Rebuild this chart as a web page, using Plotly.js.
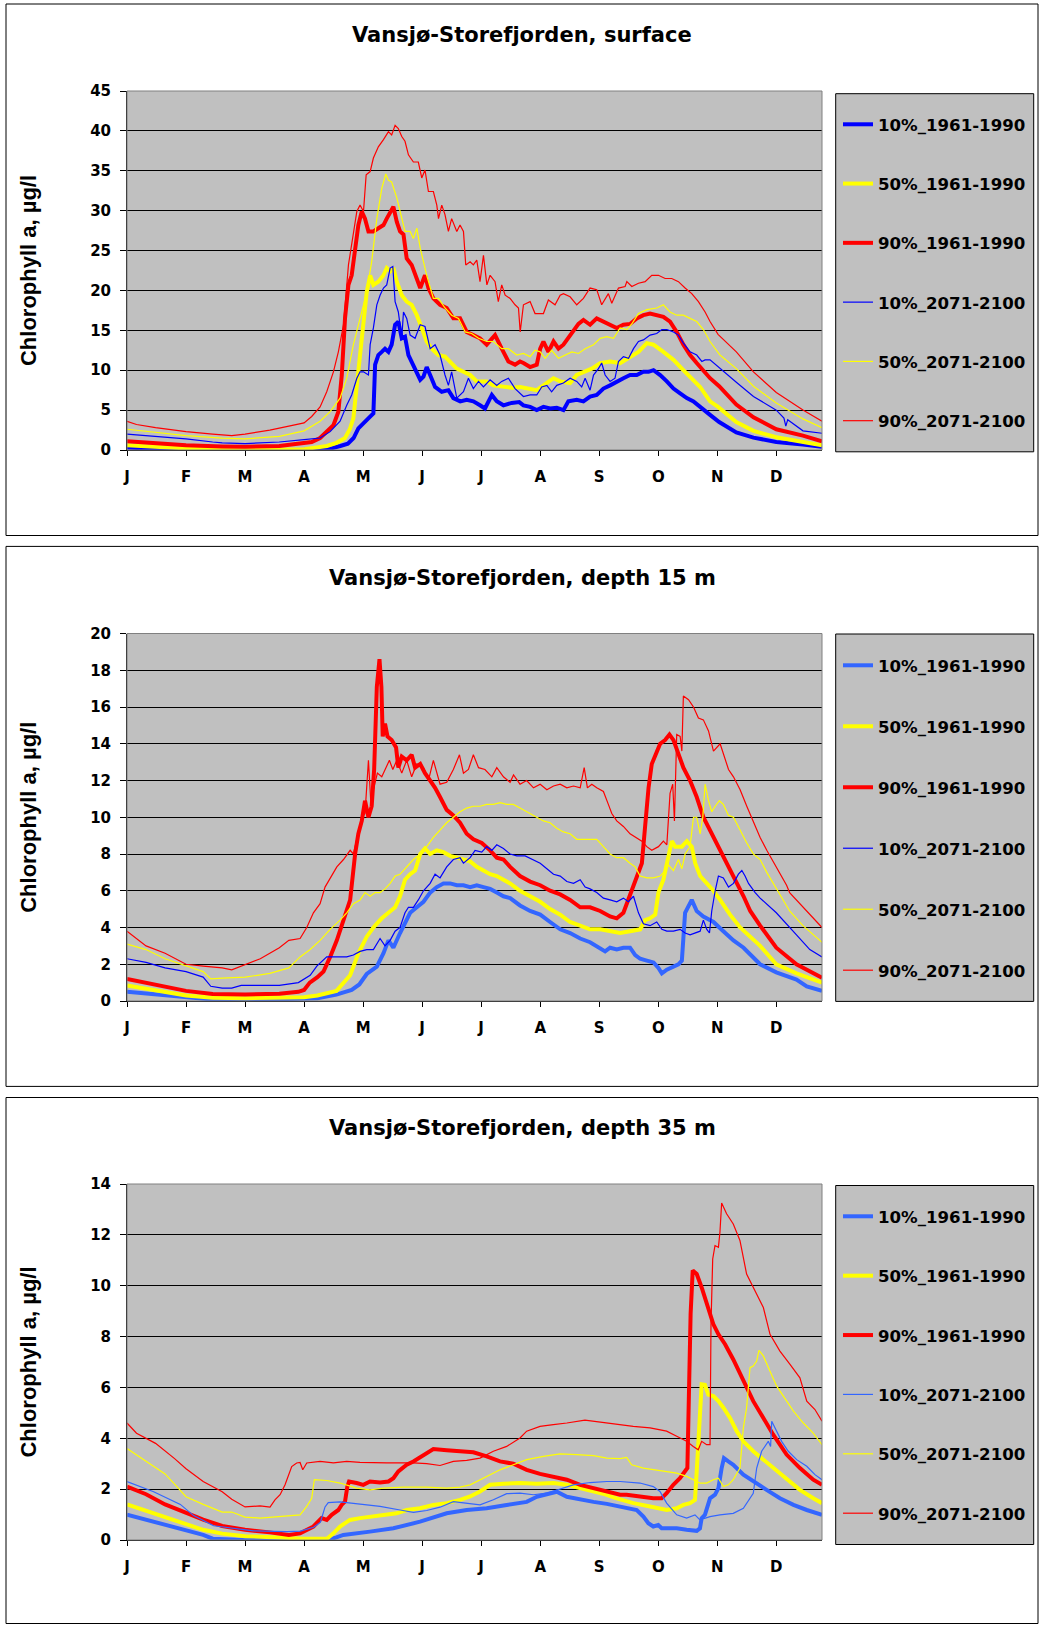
<!DOCTYPE html>
<html>
<head>
<meta charset="utf-8">
<script src="https://cdn.plot.ly/plotly-3.0.1.min.js"></script>
<style>html,body{margin:0;padding:0;background:#fff;}#chart{width:1041px;height:1625px;}</style>
</head>
<body>
<div id="chart"></div>
<script>
// ---------- DATA (day of year, chlorophyll a µg/l) ----------
const monthTickDays = [0,31,62,93,124,155,186,217,248,279,310,341];
const monthTickLabels = ['J','F','M','A','M','J','J','A','S','O','N','D'];
const seriesNames = ['10%_1961-1990','50%_1961-1990','90%_1961-1990','10%_2071-2100','50%_2071-2100','90%_2071-2100'];
const panelTitles = ['Vansjø-Storefjorden, surface','Vansjø-Storefjorden, depth 15 m','Vansjø-Storefjorden, depth 35 m'];

// --- surface ---
const surf_p10_hist = [[0,0.3],[8,0.2],[15,0.15],[31,0.05],[40,0.02],[62,0],[93,0.02],[100,0.1],[108,0.25],[112,0.5],[116,0.8],[119,1.5],[121.5,2.7],[124,3.3],[127.7,4.2],[129.4,4.6],[130.3,10.7],[132,11.9],[133.8,12.3],[135.5,12.7],[137.3,12.3],[139,13.2],[140.8,15.7],[142.5,16.1],[144.3,14.0],[146,14.2],[147.8,11.9],[149.5,11.1],[152.2,9.8],[154,8.8],[155.7,9.2],[157.4,10.4],[159.2,9.4],[161.8,7.9],[165.3,7.3],[168.8,7.5],[171.4,6.5],[175,6.1],[178.4,6.3],[181.9,6.1],[185.4,5.6],[188,5.2],[191.6,6.9],[194.2,6.1],[197.7,5.6],[202,5.9],[206,6.0],[208.2,5.6],[211.7,5.4],[215.2,5.0],[218.7,5.4],[222.2,5.2],[225.7,5.3],[229.2,5.0],[231.8,6.1],[236.2,6.3],[239.7,6.1],[243.2,6.7],[246.7,6.9],[250.2,7.7],[253.7,8.1],[257.2,8.6],[260.7,9.0],[264.2,9.4],[267.7,9.4],[271.2,9.8],[273.9,9.8],[276.5,10.0],[280,9.4],[283.5,8.6],[287,7.7],[290.5,7.1],[294,6.5],[297.5,6.1],[301,5.4],[303.6,4.8],[306.2,4.4],[311,3.5],[320,2.2],[329,1.55],[341,1.0],[355,0.7],[365,0.4]];
const surf_p50_hist = [[0,0.6],[15,0.4],[31,0.2],[50,0.08],[62,0.05],[80,0.05],[93,0.1],[100,0.3],[105,0.5],[110,0.9],[114.5,1.5],[117,2.6],[118.9,4.0],[120.7,8.1],[122.4,12.3],[124.2,16.5],[125.9,19.8],[127.7,21.9],[129.4,20.7],[132,21.1],[134.7,21.9],[136.4,22.8],[138.2,22.4],[139.9,22.8],[141.7,21.1],[144.3,19.4],[146.9,18.6],[149.5,18.2],[152.2,16.9],[154.8,15.3],[157.4,13.6],[160,12.7],[163.6,11.9],[167,11.7],[169.7,11.1],[173.2,10.2],[176.7,9.8],[180.2,9.4],[183.7,8.6],[189,8.6],[192.4,8.1],[197.7,7.9],[202,7.8],[206.5,7.9],[211.7,7.7],[215.2,7.5],[218.7,8.1],[224,9.0],[227.5,8.6],[232.7,8.4],[236.2,9.4],[239.7,9.8],[244.1,10.2],[248.5,10.9],[253.7,11.1],[259,10.9],[264.2,11.7],[268.6,12.3],[273,13.4],[276.5,13.2],[281.7,12.3],[287,11.3],[291.4,10.2],[295.7,9.2],[301,7.9],[306.2,6.1],[310.4,5.4],[320,3.5],[329,2.4],[341,1.6],[355,1.0],[365,0.6]];
const surf_p90_hist = [[0,1.1],[15,0.8],[31,0.6],[50,0.45],[62,0.4],[80,0.5],[93,0.8],[97,1.0],[101.4,1.5],[104.9,2.3],[108.4,3.1],[111,4.8],[112.8,9.4],[114.5,16.5],[116.3,20.7],[118,21.9],[119.8,25.7],[121.5,28.2],[123.3,29.9],[125,29.0],[126.8,27.4],[129.4,27.4],[132,27.8],[134.7,28.2],[136.4,29.0],[138.2,29.9],[139.9,30.5],[141.7,28.6],[143.4,27.4],[145.2,27.0],[146.9,24.0],[149.5,23.2],[152.2,21.5],[154,20.3],[156.5,21.9],[158.3,20.3],[160.9,19.0],[164.4,18.2],[167.9,17.8],[171.4,16.5],[174.9,16.5],[178.4,14.8],[181.9,14.4],[185.4,14.0],[188.9,13.2],[193.3,14.4],[196.8,12.7],[200.3,11.1],[203.8,10.7],[206.4,11.1],[208.2,10.9],[211.7,10.4],[215.2,10.7],[217,12.7],[218.7,13.6],[221.3,12.3],[224,13.6],[226.6,12.7],[229.2,13.2],[231.8,14.0],[234.5,14.8],[237.1,15.8],[239.7,16.3],[243.2,15.7],[246.7,16.5],[250.2,16.1],[253.7,15.8],[257.2,15.3],[260.7,15.7],[264.2,15.8],[267.7,16.5],[271.2,16.9],[274.7,17.1],[278.2,16.9],[281.7,16.7],[285.2,16.1],[288.7,14.8],[292.2,13.2],[295.7,11.9],[299.2,10.9],[302.7,10.0],[306.2,9.0],[311,8.0],[320,5.7],[329,4.1],[341,2.6],[355,1.8],[365,1.1]];
const surf_p10_fut = [[0,2.0],[15,1.7],[31,1.4],[45,1.0],[50,0.9],[62,0.8],[80,1.0],[93,1.3],[101.4,1.5],[106.7,2.3],[111.9,3.6],[115.4,5.6],[118,6.9],[120.7,9.0],[122.4,9.8],[124.2,9.8],[126.8,9.4],[127.7,13.2],[129.4,15.3],[131.2,18.2],[132.9,19.4],[134.7,20.3],[136.4,20.7],[138.2,22.8],[139.6,23.0],[140.8,18.6],[142.5,17.3],[144.3,14.0],[145.2,17.3],[146.9,16.5],[148.7,14.4],[151.3,14.0],[154,15.7],[156.5,15.5],[159.2,12.7],[161.8,13.2],[164.4,11.9],[167,9.4],[168.8,8.1],[170.5,9.8],[173.2,6.5],[176.7,7.3],[179.3,9.0],[181.9,7.7],[184.6,8.6],[187.2,7.9],[190.7,8.8],[194.2,8.1],[196.8,8.6],[200.3,9.0],[203.8,7.7],[208.2,6.7],[211.7,6.9],[215.2,6.9],[217.8,7.9],[220.5,8.1],[223,7.3],[225.7,8.1],[229.2,8.4],[232.7,9.0],[236.2,8.6],[238.8,7.9],[240.6,9.0],[243.2,7.5],[245,9.4],[247.6,10.2],[249.3,10.9],[251.1,9.4],[253.7,8.6],[256.3,9.0],[258.1,11.1],[260.7,11.7],[263.4,11.5],[266,12.7],[268.6,13.6],[271.2,13.8],[274.7,14.4],[278.2,14.6],[280.9,15.1],[283.5,15.1],[287,14.8],[289.6,14.4],[292.2,13.4],[295.7,12.3],[299.2,11.9],[301.9,11.1],[303.6,11.3],[306.2,11.3],[311.4,10.2],[320,8.5],[329,6.7],[341,5.0],[345,4.0],[346,3.0],[347,3.8],[355,2.4],[365,2.1]];
const surf_p50_fut = [[0,2.6],[15,2.2],[31,1.8],[50,1.5],[62,1.4],[80,1.7],[93,2.4],[101.4,3.6],[106.7,4.8],[111.9,6.5],[115.4,9.0],[118.9,13.2],[122.4,16.5],[125.9,19.8],[128.5,23.6],[131.2,29.0],[133.8,32.8],[135.9,34.6],[137.3,33.8],[139,33.6],[141.7,31.6],[144.3,29.0],[146,27.4],[148.7,27.4],[150.4,26.5],[152.2,27.8],[154,25.3],[157.4,21.9],[160.9,19.0],[163.6,19.0],[167,17.8],[170.5,16.9],[174.1,16.5],[177.6,14.8],[181,14.6],[184.6,14.0],[189,13.6],[192.4,13.6],[196.8,12.7],[200.3,12.7],[204.7,11.9],[208.2,12.1],[211.7,11.7],[214.3,12.5],[217,12.3],[219.6,11.5],[223,12.5],[226.6,11.5],[230.1,11.9],[233.6,12.3],[237.1,12.1],[240.6,12.7],[245,13.2],[248.5,14.0],[252,14.2],[255.5,14.0],[259,15.3],[262.5,15.1],[265.1,15.8],[268.6,17.1],[273,17.6],[278.2,17.8],[281.7,18.2],[285.2,17.3],[288.7,16.9],[292.2,16.9],[295.7,16.5],[299.2,16.1],[302.7,15.1],[306.2,13.6],[311.4,11.9],[320,10.2],[329,8.0],[341,5.9],[355,3.9],[365,2.8]];
const surf_p90_fut = [[0,3.6],[5,3.2],[15,2.8],[31,2.3],[45,2.0],[55,1.8],[62,2.0],[75,2.5],[85,3.0],[93,3.4],[97,4.2],[101.4,5.4],[104.9,7.3],[108.4,9.8],[111,12.3],[113.7,15.7],[116.3,23.2],[118.9,27.4],[120.7,29.9],[122.4,30.7],[124.2,29.9],[125.6,34.5],[127.7,34.9],[129.4,36.6],[132,38.0],[134.7,38.9],[137.3,39.9],[139,39.5],[140.8,40.7],[142.5,40.3],[144.3,39.3],[146,38.7],[147.8,37.0],[150.4,36.1],[153,36.1],[154.8,34.1],[156.5,35.1],[158.3,32.4],[160.9,32.4],[162.7,30.7],[163.6,29.0],[165.3,30.7],[167,29.5],[168.8,27.4],[170.5,29.0],[173.2,27.4],[174.9,28.2],[176.7,27.4],[177.9,23.2],[180.2,23.6],[181.9,23.2],[183.7,23.8],[185.4,21.1],[187.2,24.4],[189,20.7],[190.7,21.9],[193.3,21.1],[195,18.6],[196.8,20.7],[198.6,19.4],[201.2,19.0],[203.8,18.2],[205.6,17.8],[206.5,14.8],[208.2,18.2],[211.7,18.6],[214.3,17.1],[218.7,17.1],[221.3,18.8],[224.8,18.2],[227.5,19.4],[229.2,19.6],[232.7,19.2],[236.2,18.2],[239.7,19.0],[243.2,20.3],[246.7,20.1],[249.3,18.2],[252.8,19.6],[254.6,18.4],[258.1,20.3],[261.6,20.5],[262.5,21.1],[265.1,20.5],[268.6,20.9],[272.1,21.1],[275.6,21.9],[279.1,21.9],[282.6,21.5],[286.1,21.5],[289.6,21.1],[293.1,20.3],[296.6,19.6],[300.1,18.6],[303.6,17.3],[306.2,16.1],[310.4,14.5],[320,12.3],[329,9.8],[341,7.2],[355,5.0],[365,3.6]];

// --- depth 15 m ---
const d15_p10_hist = [[0,0.5],[15,0.35],[31,0.2],[45,0.08],[62,0.05],[93,0.1],[100,0.15],[110,0.35],[118,0.6],[122,0.9],[125.9,1.47],[131.2,1.87],[134.7,2.6],[137.3,3.3],[139.9,2.9],[143.4,3.7],[146,4.2],[148.7,4.8],[152.2,5.1],[155.7,5.4],[159.2,5.9],[162.7,6.2],[166.2,6.4],[169.7,6.4],[173.2,6.3],[176.7,6.3],[180.2,6.2],[183.7,6.3],[187.2,6.2],[190.7,6.1],[194.2,5.9],[197.7,5.7],[201.2,5.6],[206.4,5.2],[211.7,4.9],[217,4.7],[222.2,4.3],[227.5,3.9],[232.7,3.7],[238,3.4],[243.2,3.2],[248.5,2.9],[251.1,2.7],[253.7,2.9],[257.2,2.8],[260.7,2.9],[264.2,2.9],[266.9,2.5],[269.5,2.3],[273,2.2],[276.5,2.1],[279.1,1.8],[280.9,1.5],[283.5,1.7],[287,1.9],[289.6,2.0],[291.4,2.2],[293.1,4.8],[296.6,5.5],[299.2,4.9],[302.7,4.6],[308,4.3],[313.2,3.8],[318.5,3.3],[323.8,2.9],[329,2.4],[332.5,2.0],[341,1.56],[351.6,1.17],[357,0.8],[365,0.55]];
const d15_p50_hist = [[0,0.85],[15,0.6],[31,0.3],[45,0.18],[62,0.15],[93,0.2],[100,0.3],[110,0.55],[117.2,1.4],[121.5,2.6],[125.9,3.5],[129.4,4.0],[133.8,4.5],[137.3,4.8],[140.8,5.1],[143.4,5.7],[146,6.6],[148.7,6.9],[151.3,7.1],[154,8.0],[156.5,8.3],[159.2,8.0],[162.7,8.2],[166.2,8.1],[169.7,7.9],[173.2,7.8],[176.7,7.7],[180.2,7.6],[183.7,7.3],[187.2,7.1],[190.7,6.9],[194.2,6.8],[197.7,6.6],[201.2,6.4],[206.4,6.0],[211.7,5.7],[217,5.4],[222.2,5.0],[227.5,4.7],[232.7,4.3],[238,4.1],[243.2,3.9],[248.5,3.9],[253.7,3.8],[259,3.7],[264.2,3.8],[269.5,3.9],[272.1,4.4],[274.7,4.5],[277.4,4.7],[279.1,5.9],[281.7,6.6],[284.4,8.0],[286.1,8.7],[287.9,8.4],[291.4,8.4],[294,8.7],[296.6,8.4],[298.4,7.5],[301,6.8],[304.5,6.4],[308,6.0],[311.5,5.5],[316.7,4.7],[322,4.0],[327.3,3.5],[332.5,3.0],[341,2.0],[351.6,1.5],[365,1.0]];
const d15_p90_hist = [[0,1.2],[15,0.9],[31,0.55],[45,0.38],[62,0.35],[80,0.4],[90,0.5],[93,0.6],[96,1.0],[100,1.3],[103.2,1.6],[106.7,2.4],[110.2,3.3],[113.7,4.4],[117.2,5.5],[119.8,8.0],[121.5,9.1],[123.3,9.8],[125,10.9],[126.8,10.0],[128.5,10.6],[129.8,12.6],[131.2,17.1],[132.6,18.6],[133.6,17.1],[134.3,14.4],[135.5,15.1],[136.8,14.4],[139,14.2],[141.3,13.8],[142.5,12.7],[144.3,13.3],[146.9,13.1],[149.5,13.4],[151.3,12.7],[154,12.9],[156.5,12.4],[159.2,12.0],[161.8,11.6],[164.4,11.1],[167.9,10.4],[171.4,10.1],[174.9,9.7],[178.4,9.1],[181.9,8.8],[186.3,8.6],[190.7,8.2],[194.2,7.8],[197.7,7.7],[201.2,7.3],[206.4,6.8],[211.7,6.5],[217,6.3],[222.2,6.0],[227.5,5.8],[232.7,5.5],[238,5.1],[243.2,5.1],[248.5,4.9],[253.7,4.6],[257.2,4.5],[260.7,4.8],[263.3,5.5],[266,6.2],[268.6,6.9],[270.4,7.5],[272.1,9.5],[273.9,11.6],[275.6,12.9],[278.2,13.5],[280,14.0],[282.6,14.2],[284.9,14.5],[287,14.2],[289.6,13.5],[292.2,12.7],[295.7,12.0],[299.2,11.1],[302.7,10.0],[306.2,9.3],[309.7,8.6],[313.2,7.8],[316.7,7.1],[320.2,6.4],[323.8,5.7],[327.3,4.9],[332.5,4.1],[341,2.9],[351.6,2.0],[365,1.27]];
const d15_p10_fut = [[0,2.3],[10,2.1],[20,1.8],[31,1.6],[40,1.3],[44,0.8],[50,0.7],[55,0.7],[60,0.85],[80,0.85],[90,1.0],[93,1.2],[96.2,1.4],[99.7,1.9],[104.9,2.4],[110.2,2.4],[115.4,2.4],[118.9,2.5],[122.4,2.7],[125.9,2.8],[129.4,2.8],[132.9,3.4],[135.5,3.0],[138.2,3.3],[140.8,3.8],[143.4,4.0],[146,4.8],[147.8,5.1],[150.4,5.1],[153,5.5],[155.7,6.0],[159.2,6.4],[161.8,6.9],[164.4,6.7],[167.9,7.3],[171.4,7.7],[174.9,7.8],[176.7,7.5],[180.2,7.8],[182.8,8.2],[186.3,8.1],[188.9,8.4],[191.6,8.2],[194.2,8.5],[197.7,8.3],[201.2,8.0],[204.7,7.9],[209.1,7.9],[213.5,7.7],[217,7.5],[220.5,7.2],[224,6.9],[227.5,6.8],[231,6.5],[234.5,6.4],[238,6.6],[240.6,6.2],[243.2,6.1],[246.7,5.9],[250.2,5.6],[253.7,5.5],[257.2,5.4],[260.7,5.6],[263.3,5.4],[266,5.7],[268.6,4.8],[271.2,4.2],[274.7,4.1],[278.2,4.3],[280.9,3.9],[283.5,3.8],[287,3.8],[290.5,3.9],[293.1,3.7],[295.7,3.6],[298.4,3.7],[301,3.8],[302.7,4.4],[304.5,3.9],[305.9,3.7],[307.1,4.9],[308.9,6.0],[310.6,6.8],[313.2,6.7],[315.9,6.2],[318.5,6.4],[321.1,6.9],[322.9,7.1],[324.6,6.8],[326.4,6.4],[329.9,5.9],[332.5,5.6],[341,4.8],[351.6,3.6],[358.6,2.8],[365,2.4]];
const d15_p50_fut = [[0,3.1],[10,2.8],[20,2.3],[31,1.9],[40,1.6],[44,1.2],[50,1.25],[62,1.3],[75,1.5],[85,1.8],[90.9,2.4],[96.2,2.8],[101.4,3.3],[106.7,3.9],[111.9,4.4],[115.4,4.8],[118.9,5.3],[122.4,5.5],[125,5.9],[127.7,5.7],[130.3,5.9],[132.9,5.9],[135.5,6.1],[138.2,6.4],[140.8,6.8],[143.4,6.9],[146.9,7.3],[150.4,7.7],[154,8.0],[157.4,8.4],[160.9,8.9],[164.4,9.3],[167.9,9.7],[171.4,10.0],[174.9,10.3],[178.4,10.5],[181.9,10.6],[185.4,10.6],[188.9,10.7],[192.4,10.7],[196,10.8],[199.4,10.7],[202.9,10.7],[206.4,10.5],[208.2,10.4],[211.7,10.2],[215.2,10.0],[218.7,9.8],[222.2,9.7],[225.7,9.4],[229.2,9.2],[232.7,9.1],[236.2,8.8],[239.7,8.8],[243.2,8.8],[246.7,8.8],[250.2,8.4],[253.7,8.0],[257.2,7.8],[260.7,7.8],[264.2,7.5],[266.9,7.3],[269.5,6.8],[273,6.7],[276.5,6.7],[280,6.8],[282.6,7.1],[284.4,7.4],[287,7.1],[289.6,7.7],[291.4,7.2],[293.1,8.0],[295.7,8.4],[297.5,10.0],[299.2,10.0],[301,9.1],[302.4,10.0],[303.6,11.8],[305.4,10.9],[307.1,10.3],[308.9,10.6],[311.1,10.9],[313.2,10.7],[315.9,10.1],[318.5,10.0],[322,9.3],[325.5,8.6],[329,8.0],[332.5,7.7],[336,7.0],[341,6.1],[348,4.9],[355,4.1],[365,3.2]];
const d15_p90_fut = [[0,3.8],[5,3.4],[10,3.0],[20,2.6],[31,2.0],[40,1.9],[50,1.8],[55,1.7],[62,2.0],[70,2.3],[80,2.9],[85,3.3],[90.9,3.4],[94.4,4.0],[97.9,4.8],[101.4,5.3],[104,6.2],[107.5,6.8],[110.2,7.3],[113.7,7.7],[117.2,8.2],[118.9,8.0],[121.5,9.1],[123.3,10.0],[125,10.2],[126.8,13.1],[128,10.9],[129.8,11.6],[131.5,12.4],[133.8,12.2],[136.1,12.7],[137.8,13.1],[139.6,12.6],[141.7,13.1],[144.3,12.4],[146.9,13.1],[149.5,12.2],[152.2,12.9],[155.7,12.7],[158.3,12.0],[160.9,13.1],[164.4,11.8],[167.9,11.9],[171.4,12.6],[174.6,13.4],[176.7,12.4],[179.3,12.6],[181.9,13.4],[184.6,12.7],[188,12.6],[191.6,12.2],[194.2,12.7],[197.7,12.2],[201.2,11.9],[203,12.3],[206.4,11.8],[209.9,12.0],[213.5,11.6],[217,11.8],[220.5,11.5],[224,11.7],[227.5,11.8],[231,11.6],[234.5,11.7],[238,11.6],[240.1,12.7],[241.8,11.6],[244.1,11.8],[246.7,11.6],[250.2,11.4],[252.8,10.7],[254.6,10.2],[257.2,9.8],[260.7,9.5],[264.2,9.1],[267.7,8.9],[270.4,8.7],[273,8.4],[275.6,8.2],[279.1,8.4],[281.7,8.7],[283.5,8.5],[285.2,11.3],[286.6,11.8],[287.5,9.8],[288.7,14.5],[290.5,14.4],[291.4,13.6],[292.2,16.6],[294.9,16.4],[297.5,16.0],[300.1,15.4],[302.7,15.3],[305.4,14.7],[308,13.6],[311.5,14.0],[313.2,13.5],[315.9,12.6],[318.5,12.2],[322,11.5],[325.5,10.6],[329,9.7],[332.5,8.9],[336,8.2],[341,7.3],[346.4,6.3],[348,5.9],[355,5.1],[365,4.0]];

// --- depth 35 m ---
const d35_p10_hist = [[0,1.0],[10,0.8],[20,0.6],[31,0.4],[40,0.2],[45,0.05],[62,0.0],[93,0.0],[105,0.0],[110,0.1],[113.6,0.2],[127.6,0.33],[139.9,0.46],[153.9,0.72],[167.9,1.05],[178.4,1.18],[188.9,1.25],[199.4,1.38],[209.9,1.5],[215.2,1.7],[222.2,1.84],[225.7,1.9],[231,1.7],[238,1.58],[245,1.5],[252,1.42],[259,1.3],[264,1.22],[267.7,1.18],[271.2,0.92],[273.8,0.66],[276.4,0.53],[279,0.59],[280.8,0.46],[283.4,0.46],[288.7,0.46],[293.9,0.4],[299.2,0.36],[300.9,0.46],[301.8,0.86],[303.5,0.99],[306.2,1.64],[308.8,1.78],[310.6,2.04],[312.3,2.83],[313.5,3.22],[315.8,3.09],[318.4,2.96],[323.7,2.57],[328.9,2.3],[335.9,1.97],[342.9,1.64],[350,1.38],[357,1.18],[365,0.99]];
const d35_p50_hist = [[0,1.4],[10,1.15],[20,0.9],[31,0.6],[40,0.4],[50,0.25],[62,0.15],[80,0.1],[93,0.05],[105,0.05],[108.4,0.26],[111.9,0.53],[117.1,0.79],[122.4,0.86],[129.4,0.92],[136.4,0.99],[141.6,1.05],[146.9,1.18],[153.9,1.25],[160.9,1.38],[167.9,1.45],[174.9,1.58],[180.2,1.71],[185.4,1.91],[190.7,2.17],[197.7,2.21],[206.4,2.24],[215.2,2.21],[223.9,2.24],[231,2.17],[238,2.04],[245,1.91],[250,1.82],[257.2,1.64],[265.9,1.45],[274.7,1.32],[283.4,1.18],[288.7,1.25],[292.2,1.38],[295.7,1.45],[298.3,1.58],[299.2,2.7],[300.4,4.14],[301.8,6.12],[303.5,6.1],[305.3,5.72],[307.9,5.66],[310.6,5.46],[313.2,5.2],[316.7,4.8],[320.2,4.28],[323.7,3.88],[328.9,3.49],[334.2,3.16],[339.4,2.83],[346.4,2.43],[353.4,1.97],[360.4,1.64],[365,1.45]];
const d35_p90_hist = [[0,2.1],[10,1.8],[20,1.4],[31,1.05],[40,0.8],[50,0.55],[62,0.4],[75,0.3],[85,0.2],[90.9,0.26],[97.9,0.53],[102.2,0.86],[104.9,0.79],[107.5,0.99],[111,1.18],[112.7,1.38],[114.5,1.51],[115.7,2.1],[116.6,2.3],[120.6,2.24],[124.1,2.17],[127.6,2.3],[132.9,2.26],[137.3,2.3],[139.9,2.43],[142.5,2.7],[146.9,2.96],[150.4,3.09],[155.6,3.32],[158.3,3.42],[160.9,3.58],[167.9,3.53],[174.9,3.49],[181.9,3.45],[188.9,3.29],[195.9,3.09],[202.9,3.0],[209.9,2.76],[216.9,2.6],[223.9,2.5],[231,2.37],[238,2.17],[245,2.04],[252,1.91],[259,1.78],[262.4,1.78],[269.4,1.71],[276.4,1.64],[280.8,1.64],[283.4,1.84],[286.9,2.17],[290.4,2.43],[294.3,2.83],[295.3,6.5],[296,8.9],[297.1,10.6],[299.2,10.46],[301.8,9.93],[304.4,9.28],[307.9,8.49],[310.6,8.09],[314.1,7.7],[318.4,7.1],[323.7,6.25],[328.9,5.46],[334.2,4.8],[339.4,4.14],[346.4,3.36],[353.4,2.83],[360.4,2.37],[365,2.17]];
const d35_p10_fut = [[0,2.3],[14,1.9],[28,1.4],[35,0.96],[45.5,0.56],[56,0.47],[66.5,0.36],[84,0.33],[91,0.35],[98,0.5],[101.6,0.7],[104,1.3],[105.7,1.47],[111.9,1.5],[122.4,1.42],[132.9,1.32],[143.4,1.18],[150.4,1.09],[157.4,1.16],[164.4,1.29],[171.4,1.51],[178.4,1.45],[185.4,1.38],[192.4,1.58],[199.4,1.82],[206.4,1.84],[213.4,1.78],[220.4,1.84],[227.4,2.0],[234.4,2.17],[243.2,2.26],[252,2.3],[259,2.3],[265,2.28],[269.4,2.24],[276.4,2.1],[279.9,1.91],[283.4,1.45],[288.7,0.99],[293.9,0.86],[298.3,0.99],[300.9,0.79],[306.2,0.92],[311.4,0.99],[318.4,1.05],[323.7,1.25],[328.9,1.84],[330.7,2.83],[333.3,3.49],[336.8,3.88],[338,3.68],[338.6,4.67],[340.3,4.41],[343.8,3.88],[347.3,3.49],[351.7,3.16],[357,2.9],[361.3,2.57],[365,2.37]];
const d35_p50_fut = [[0,3.6],[10,3.1],[20,2.6],[25,2.2],[31,1.7],[40,1.4],[50,1.1],[55,1.1],[62,0.9],[69.9,0.86],[80.4,0.92],[90.9,0.99],[94.4,1.32],[97,1.64],[98.4,2.37],[104.9,2.34],[111.9,2.24],[120.6,2.04],[127.6,1.97],[134.6,2.04],[145.1,2.08],[157.4,2.08],[167.9,2.04],[174.9,2.08],[180.2,2.17],[185.4,2.37],[190.7,2.57],[195.9,2.76],[202.9,2.96],[209.9,3.16],[218.7,3.29],[227.4,3.39],[236.2,3.36],[245,3.32],[252,3.22],[259,3.2],[262.4,3.25],[265,2.96],[271.2,2.83],[278.2,2.76],[283.4,2.7],[288.7,2.63],[293.9,2.5],[297.4,2.37],[300.9,2.24],[304.4,2.24],[307.9,2.37],[310.6,2.43],[313.2,2.1],[315.8,2.17],[318.4,2.37],[321.9,2.83],[323.7,4.41],[325.4,5.2],[327.2,6.78],[328.9,6.84],[330.7,7.04],[331.9,7.46],[334.2,7.24],[337.7,6.64],[341.2,6.05],[344.7,5.66],[350,5.07],[355.2,4.6],[360.4,4.2],[365,3.75]];
const d35_p90_fut = [[0,4.6],[5,4.2],[15,3.8],[25,3.2],[31,2.8],[40,2.3],[50,1.9],[55,1.6],[62,1.3],[69.9,1.34],[75.1,1.29],[77.7,1.58],[80.4,1.78],[83,2.17],[86.5,2.89],[89.1,3.03],[90.9,3.05],[92.3,2.76],[94.4,3.03],[101.4,3.09],[108.4,3.03],[115.4,3.09],[122.4,3.05],[129.4,3.03],[136.4,3.03],[143.4,3.03],[150.4,3.03],[157.4,3.0],[164.4,2.93],[171.4,3.09],[178.4,3.13],[185.4,3.22],[192.4,3.49],[199.4,3.68],[206.4,4.01],[209.9,4.28],[216.9,4.47],[223.9,4.54],[231,4.6],[240.5,4.71],[248.4,4.63],[257.2,4.54],[265.9,4.47],[274.7,4.41],[279.9,4.34],[283.4,4.28],[288.7,4.08],[293.9,3.88],[297.4,3.68],[300,3.55],[301.8,3.88],[304.4,3.75],[306.2,3.75],[306.7,8.49],[307.6,11.05],[308.8,11.58],[310.6,11.51],[311.4,12.1],[312.3,13.25],[314.9,12.83],[318.4,12.43],[321.9,11.78],[325.4,10.46],[328.9,9.93],[334.2,9.14],[337.7,8.09],[342.9,7.43],[348.2,6.91],[353.4,6.38],[357,5.46],[361.3,5.13],[365,4.67]];

// ---------- LAYOUT ----------
const W = 1041, H = 1625;
const fx = v => v / W, fy = v => 1 - v / H;
const FONT = 'DejaVu Sans';
const TITLE_FONT = 'Liberation Sans, Arial, sans-serif';
const thick = 4, thin = 1.2;

const panels = [
  {data:[surf_p10_hist,surf_p50_hist,surf_p90_hist,surf_p10_fut,surf_p50_fut,surf_p90_fut],
   colors:['#0000FF','#FFFF00','#FF0000','#0000FF','#FFFF00','#FF0000'],
   ymax:45, dtick:5, top:91, bottom:450, box:[4,535.5], titleY:34.5, leg:[93.7,451.8], legTop:107, gap:34.7},
  {data:[d15_p10_hist,d15_p50_hist,d15_p90_hist,d15_p10_fut,d15_p50_fut,d15_p90_fut],
   colors:['#3366FF','#FFFF00','#FF0000','#0000FF','#FFFF00','#FF0000'],
   ymax:20, dtick:2, top:633.5, bottom:1001, box:[546.4,1086.4], titleY:577.5, leg:[634,1001.4], legTop:648, gap:36.4},
  {data:[d35_p10_hist,d35_p50_hist,d35_p90_hist,d35_p10_fut,d35_p50_fut,d35_p90_fut],
   colors:['#3366FF','#FFFF00','#FF0000','#3366FF','#FFFF00','#FF0000'],
   ymax:14, dtick:2, top:1184, bottom:1540, box:[1097.5,1623.5], titleY:1127.5, leg:[1185.5,1544.5], legTop:1199, gap:34.8}
];

const traces = [], shapes = [], annotations = [];
const layout = {
  width: W, height: H, autosize: false,
  margin: {l:0, r:0, t:0, b:0, pad:0},
  paper_bgcolor: '#FFFFFF', plot_bgcolor: '#C0C0C0',
  showlegend: true, hovermode: false,
  font: {family: FONT, color: '#000000'}
};

panels.forEach((p, i) => {
  const n = i === 0 ? '' : String(i + 1);
  const legendId = 'legend' + n;
  p.data.forEach((s, k) => {
    traces.push({
      type: 'scatter', mode: 'lines',
      x: s.map(d => d[0]), y: s.map(d => d[1]),
      name: seriesNames[k],
      line: {color: p.colors[k], width: k < 3 ? thick : thin},
      xaxis: 'x' + n, yaxis: 'y' + n,
      legend: legendId, legendgroup: 'g' + i + '_' + k,
      hoverinfo: 'skip'
    });
  });
  layout['xaxis' + n] = {
    domain: [fx(127), fx(822)], anchor: 'y' + n,
    range: [0, 365], fixedrange: true,
    tickmode: 'array', tickvals: monthTickDays, ticktext: monthTickLabels,
    ticks: 'outside', ticklen: 5, tickwidth: 1, tickcolor: '#000',
    showline: true, linecolor: '#000', linewidth: 1,
    showgrid: false, zeroline: false,
    tickfont: {family: FONT, size: 15, weight: 'bold', color: '#000'},
    ticklabelstandoff: 8
  };
  layout['yaxis' + n] = {
    domain: [fy(p.bottom), fy(p.top)], anchor: 'x' + n,
    range: [0, p.ymax], dtick: p.dtick, tick0: 0, fixedrange: true,
    ticks: 'outside', ticklen: 6, tickwidth: 1, tickcolor: '#000',
    showline: true, linecolor: '#000', linewidth: 1,
    showgrid: true, gridcolor: '#000', gridwidth: 1, zeroline: false,
    tickfont: {family: FONT, size: 15, weight: 'bold', color: '#000'},
    ticklabelstandoff: 6,
    title: {text: 'Chlorophyll a, µg/l', font: {family: TITLE_FONT, size: 22, weight: 'bold', color: '#000'}, standoff: 47}
  };
  layout[legendId] = {
    x: fx(838), xanchor: 'left', y: fy(p.legTop), yanchor: 'top',
    bgcolor: 'rgba(0,0,0,0)', borderwidth: 0,
    font: {family: FONT, size: 16.6, weight: 'bold', color: '#000'},
    traceorder: 'grouped', tracegroupgap: p.gap, itemclick: false, itemdoubleclick: false
  };
  // outer chart frame
  shapes.push({type:'rect', xref:'paper', yref:'paper', x0:fx(6), x1:fx(1038), y0:fy(p.box[1]), y1:fy(p.box[0]),
               line:{color:'#000', width:1}, fillcolor:'rgba(0,0,0,0)', layer:'below'});
  // plot area frame (gray)
  shapes.push({type:'rect', xref:'paper', yref:'paper', x0:fx(127), x1:fx(822), y0:fy(p.bottom), y1:fy(p.top),
               line:{color:'#808080', width:1}, fillcolor:'rgba(0,0,0,0)', layer:'above'});
  // legend box
  shapes.push({type:'rect', xref:'paper', yref:'paper', x0:fx(835.7), x1:fx(1033.7), y0:fy(p.leg[1]), y1:fy(p.leg[0]),
               line:{color:'#000', width:1}, fillcolor:'#C0C0C0', layer:'below'});
  annotations.push({text: panelTitles[i], xref:'paper', yref:'paper', x: fx(522), y: fy(p.titleY),
                    xanchor:'center', yanchor:'middle', showarrow:false,
                    font:{family: FONT, size: 21, weight: 'bold', color:'#000'}});
});
layout.shapes = shapes;
layout.annotations = annotations;

Plotly.newPlot('chart', traces, layout, {staticPlot: true, displayModeBar: false, responsive: false});
</script>
</body>
</html>
